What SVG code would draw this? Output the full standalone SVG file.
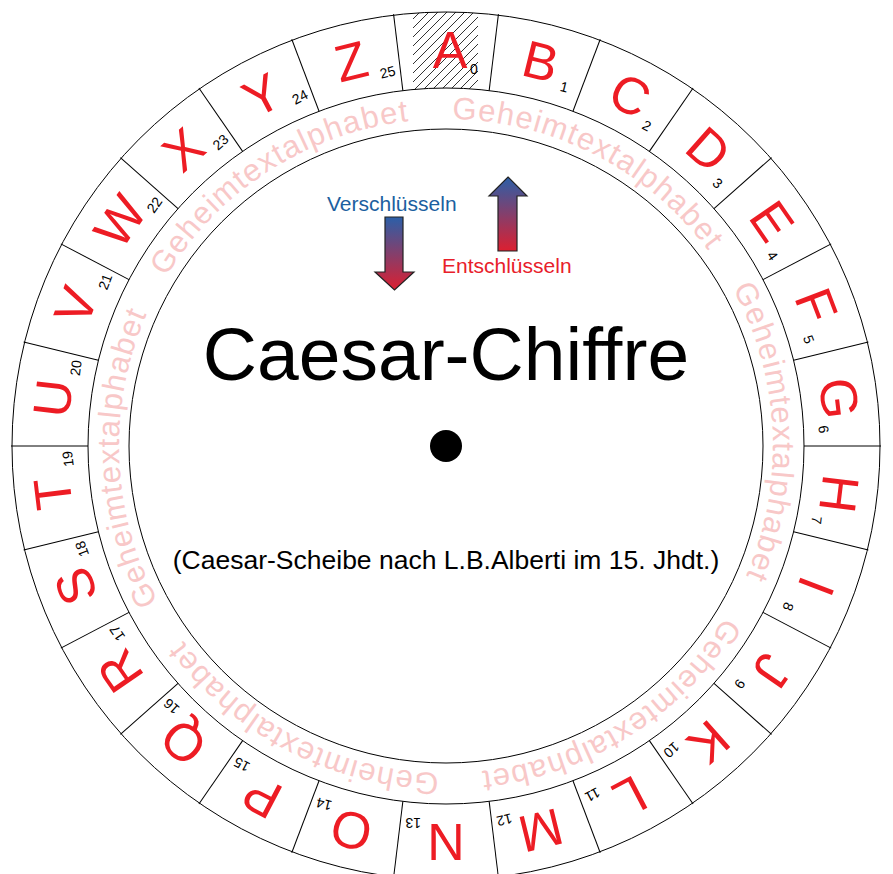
<svg xmlns="http://www.w3.org/2000/svg" width="893" height="874" viewBox="0 0 893 874">
<style>
.letter{font-family:"Liberation Sans",Arial,sans-serif;font-size:52px;fill:#ed1c24;text-anchor:middle}
.num{font-family:"Liberation Sans",Arial,sans-serif;font-size:14px;fill:#000}
.ring{font-family:"Liberation Sans",Arial,sans-serif;font-size:31px;fill:#f8c8c8;letter-spacing:1.2px}
.ln{stroke:#000;stroke-width:1;fill:none}
.arrow{fill:url(#grad);stroke:#222;stroke-width:1.2}
.lbl{font-family:"Liberation Sans",Arial,sans-serif;font-size:21px}
</style>
<defs>
<pattern id="hatch" patternUnits="userSpaceOnUse" width="9" height="9">
<line x1="-1" y1="10" x2="10" y2="-1" stroke="#333" stroke-width="1"/>
</pattern>
<linearGradient id="grad" x1="0" y1="0" x2="0" y2="1">
<stop offset="0" stop-color="#2b5fa8"/>
<stop offset="1" stop-color="#dc1f30"/>
</linearGradient>
<path id="ringPath" d="M446,119 A327,327 0 0 1 446,773 A327,327 0 0 1 446,119"/>
</defs>
<rect width="893" height="874" fill="#fff"/>
<g id="disk">
<path d="M413,13.3 A434,434 0 0 1 478,13.2 L478,89.4 A358,358 0 0 0 413,89.5 Z" fill="url(#hatch)"/>
<circle class="ln" cx="446" cy="446" r="434"/>
<circle class="ln" cx="446" cy="446" r="358"/>
<circle class="ln" cx="446" cy="446" r="317"/>
<circle cx="446" cy="446" r="16" fill="#000"/>
</g>
<g id="spokes" class="ln">
<line x1="446" y1="88" x2="446" y2="11" transform="rotate(6.9231 446 446)"/>
<line x1="446" y1="88" x2="446" y2="11" transform="rotate(20.7692 446 446)"/>
<line x1="446" y1="88" x2="446" y2="11" transform="rotate(34.6154 446 446)"/>
<line x1="446" y1="88" x2="446" y2="11" transform="rotate(48.4615 446 446)"/>
<line x1="446" y1="88" x2="446" y2="11" transform="rotate(62.3077 446 446)"/>
<line x1="446" y1="88" x2="446" y2="11" transform="rotate(76.1538 446 446)"/>
<line x1="446" y1="88" x2="446" y2="11" transform="rotate(90 446 446)"/>
<line x1="446" y1="88" x2="446" y2="11" transform="rotate(103.8462 446 446)"/>
<line x1="446" y1="88" x2="446" y2="11" transform="rotate(117.6923 446 446)"/>
<line x1="446" y1="88" x2="446" y2="11" transform="rotate(131.5385 446 446)"/>
<line x1="446" y1="88" x2="446" y2="11" transform="rotate(145.3846 446 446)"/>
<line x1="446" y1="88" x2="446" y2="11" transform="rotate(159.2308 446 446)"/>
<line x1="446" y1="88" x2="446" y2="11" transform="rotate(173.0769 446 446)"/>
<line x1="446" y1="88" x2="446" y2="11" transform="rotate(186.9231 446 446)"/>
<line x1="446" y1="88" x2="446" y2="11" transform="rotate(200.7692 446 446)"/>
<line x1="446" y1="88" x2="446" y2="11" transform="rotate(214.6154 446 446)"/>
<line x1="446" y1="88" x2="446" y2="11" transform="rotate(228.4615 446 446)"/>
<line x1="446" y1="88" x2="446" y2="11" transform="rotate(242.3077 446 446)"/>
<line x1="446" y1="88" x2="446" y2="11" transform="rotate(256.1538 446 446)"/>
<line x1="446" y1="88" x2="446" y2="11" transform="rotate(270 446 446)"/>
<line x1="446" y1="88" x2="446" y2="11" transform="rotate(283.8462 446 446)"/>
<line x1="446" y1="88" x2="446" y2="11" transform="rotate(297.6923 446 446)"/>
<line x1="446" y1="88" x2="446" y2="11" transform="rotate(311.5385 446 446)"/>
<line x1="446" y1="88" x2="446" y2="11" transform="rotate(325.3846 446 446)"/>
<line x1="446" y1="88" x2="446" y2="11" transform="rotate(339.2308 446 446)"/>
<line x1="446" y1="88" x2="446" y2="11" transform="rotate(353.0769 446 446)"/>
</g>
<g id="ring-text">
<text class="ring"><textPath href="#ringPath" startOffset="6">Geheimtextalphabet</textPath></text>
<text class="ring"><textPath href="#ringPath" startOffset="349">Geheimtextalphabet</textPath></text>
<text class="ring"><textPath href="#ringPath" startOffset="693">Geheimtextalphabet</textPath></text>
<text class="ring"><textPath href="#ringPath" startOffset="1034">Geheimtextalphabet</textPath></text>
<text class="ring"><textPath href="#ringPath" startOffset="1378">Geheimtextalphabet</textPath></text>
<text class="ring"><textPath href="#ringPath" startOffset="1718">Geheimtextalphabet</textPath></text>
</g>
<g id="letter-A" transform="rotate(0 446 446)"><text class="letter" x="450" y="68">A</text><text class="num" x="470" y="74">0</text></g>
<g id="letter-B" transform="rotate(13.8462 446 446)"><text class="letter" x="446" y="68">B</text><text class="num" x="471" y="74">1</text></g>
<g id="letter-C" transform="rotate(27.6923 446 446)"><text class="letter" x="446" y="68">C</text><text class="num" x="471" y="74">2</text></g>
<g id="letter-D" transform="rotate(41.5385 446 446)"><text class="letter" x="446" y="68">D</text><text class="num" x="471" y="74">3</text></g>
<g id="letter-E" transform="rotate(55.3846 446 446)"><text class="letter" x="446" y="68">E</text><text class="num" x="471" y="74">4</text></g>
<g id="letter-F" transform="rotate(69.2308 446 446)"><text class="letter" x="446" y="68">F</text><text class="num" x="471" y="74">5</text></g>
<g id="letter-G" transform="rotate(83.0769 446 446)"><text class="letter" x="446" y="68">G</text><text class="num" x="471" y="74">6</text></g>
<g id="letter-H" transform="rotate(96.9231 446 446)"><text class="letter" x="446" y="68">H</text><text class="num" x="471" y="74">7</text></g>
<g id="letter-I" transform="rotate(110.7692 446 446)"><text class="letter" x="446" y="68">I</text><text class="num" x="471" y="74">8</text></g>
<g id="letter-J" transform="rotate(124.6154 446 446)"><text class="letter" x="446" y="68">J</text><text class="num" x="471" y="74">9</text></g>
<g id="letter-K" transform="rotate(138.4615 446 446)"><text class="letter" x="446" y="68">K</text><text class="num" x="471" y="74">10</text></g>
<g id="letter-L" transform="rotate(152.3077 446 446)"><text class="letter" x="446" y="68">L</text><text class="num" x="471" y="74">11</text></g>
<g id="letter-M" transform="rotate(166.1538 446 446)"><text class="letter" x="446" y="68">M</text><text class="num" x="471" y="74">12</text></g>
<g id="letter-N" transform="rotate(180 446 446)"><text class="letter" x="446" y="68">N</text><text class="num" x="471" y="74">13</text></g>
<g id="letter-O" transform="rotate(193.8462 446 446)"><text class="letter" x="446" y="68">O</text><text class="num" x="471" y="74">14</text></g>
<g id="letter-P" transform="rotate(207.6923 446 446)"><text class="letter" x="446" y="68">P</text><text class="num" x="471" y="74">15</text></g>
<g id="letter-Q" transform="rotate(221.5385 446 446)"><text class="letter" x="446" y="68">Q</text><text class="num" x="471" y="74">16</text></g>
<g id="letter-R" transform="rotate(235.3846 446 446)"><text class="letter" x="446" y="68">R</text><text class="num" x="471" y="74">17</text></g>
<g id="letter-S" transform="rotate(249.2308 446 446)"><text class="letter" x="446" y="68">S</text><text class="num" x="471" y="74">18</text></g>
<g id="letter-T" transform="rotate(263.0769 446 446)"><text class="letter" x="446" y="68">T</text><text class="num" x="471" y="74">19</text></g>
<g id="letter-U" transform="rotate(276.9231 446 446)"><text class="letter" x="446" y="68">U</text><text class="num" x="471" y="74">20</text></g>
<g id="letter-V" transform="rotate(290.7692 446 446)"><text class="letter" x="446" y="68">V</text><text class="num" x="471" y="74">21</text></g>
<g id="letter-W" transform="rotate(304.6154 446 446)"><text class="letter" x="446" y="68">W</text><text class="num" x="471" y="74">22</text></g>
<g id="letter-X" transform="rotate(318.4615 446 446)"><text class="letter" x="446" y="68">X</text><text class="num" x="471" y="74">23</text></g>
<g id="letter-Y" transform="rotate(332.3077 446 446)"><text class="letter" x="446" y="68">Y</text><text class="num" x="471" y="74">24</text></g>
<g id="letter-Z" transform="rotate(346.1538 446 446)"><text class="letter" x="446" y="68">Z</text><text class="num" x="471" y="74">25</text></g>
<g id="arrow-encrypt">
<polygon class="arrow" points="385,217 403,217 403,272 414,272 394.5,290 375,272 385,272"/>
<text class="lbl" x="327" y="211" fill="#1c5fa0">Verschlüsseln</text>
</g>
<g id="arrow-decrypt">
<polygon class="arrow" points="508,177 527,196 517,196 517,251 498,251 498,196 489,196"/>
<text class="lbl" x="442" y="273" fill="#e8202a">Entschlüsseln</text>
</g>
<g id="title">
<text x="446" y="380" text-anchor="middle" font-family="Liberation Sans, Arial, sans-serif" font-size="75" fill="#000">Caesar-Chiffre</text>
<text x="446" y="569" text-anchor="middle" font-family="Liberation Sans, Arial, sans-serif" font-size="26.5" fill="#000">(Caesar-Scheibe nach L.B.Alberti im 15. Jhdt.)</text>
</g>
</svg>
